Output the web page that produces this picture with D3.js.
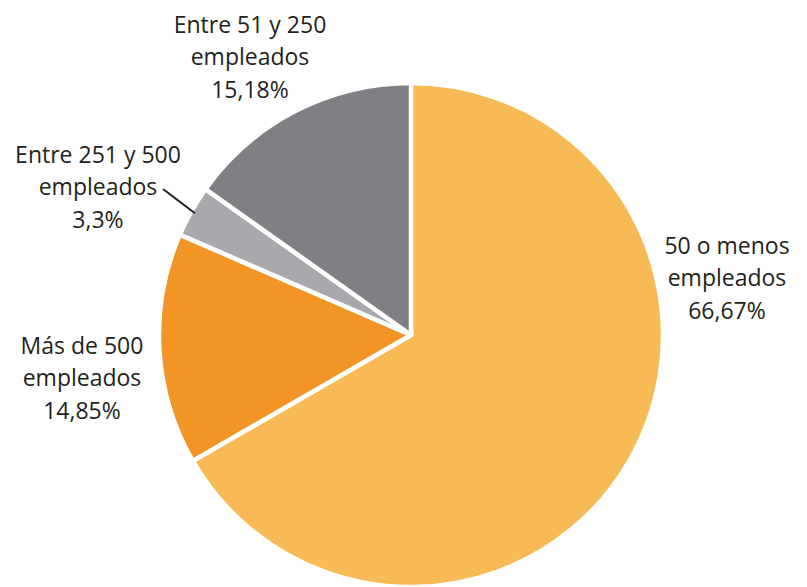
<!DOCTYPE html>
<html>
<head>
<meta charset="utf-8">
<script src="https://cdn.jsdelivr.net/npm/d3@7"></script>
<style>
  html, body { margin: 0; padding: 0; background: #fff; }
  svg text { font-family: "Open Sans", "Noto Sans", sans-serif; font-size: 23px; fill: #231f20; }
</style>
</head>
<body>
<svg id="pie"></svg>
<script>
const CATEGORIES = ["50 o menos empleados", "Más de 500 empleados", "Entre 251 y 500 empleados", "Entre 51 y 250 empleados"];
const VALUES     = [66.67, 14.85, 3.3, 15.18];
const VALUE_TEXT = ["66,67%", "14,85%", "3,3%", "15,18%"];
const LINE_1     = ["50 o menos", "Más de 500", "Entre 251 y 500", "Entre 51 y 250"];
const LINE_2     = ["empleados", "empleados", "empleados", "empleados"];

const COLORS = ["#f8ba55", "#f29526", "#a7a9ac", "#808084"];

const SVG_W = 807;
const SVG_H = 587;
const CX = 411, CY = 335, R = 252;
const LINE_H = 32.5;

// label block centres (middle line), hand placed like the original
const LABEL_AT = [[727, 278], [82, 378], [98, 187], [250, 57]];

const svg = d3.select("#pie")
  .attr("width", SVG_W)
  .attr("height", SVG_H);

const pie = d3.pie().sort(null).value((d) => d);
const arc = d3.arc().innerRadius(0).outerRadius(R);

const g = svg.append("g").attr("transform", `translate(${CX},${CY})`);

g.selectAll("path")
  .data(pie(VALUES))
  .enter().append("path")
  .attr("d", arc)
  .attr("fill", (d, i) => COLORS[i])
  .attr("stroke", "#fff")
  .attr("stroke-width", 4.5)
  .attr("stroke-linejoin", "round");

// labels
CATEGORIES.forEach((c, i) => {
  const [x, y] = LABEL_AT[i];
  const t = svg.append("text")
    .attr("text-anchor", "middle")
    .attr("x", x)
    .attr("y", y);
  [LINE_1[i], LINE_2[i], VALUE_TEXT[i]].forEach((s, k) => {
    t.append("tspan")
      .attr("x", x)
      .attr("y", y + (k - 1) * LINE_H + 8)
      .text(s);
  });
});

// leader line for the small grey slice
const small = pie(VALUES)[2];
const mid = (small.startAngle + small.endAngle) / 2;
const p1 = [CX + Math.sin(mid) * (R - 4), CY - Math.cos(mid) * (R - 4)];
svg.append("line")
  .attr("x1", 163).attr("y1", 189)
  .attr("x2", p1[0]).attr("y2", p1[1])
  .attr("stroke", "#231f20")
  .attr("stroke-width", 2);
</script>
</body>
</html>
